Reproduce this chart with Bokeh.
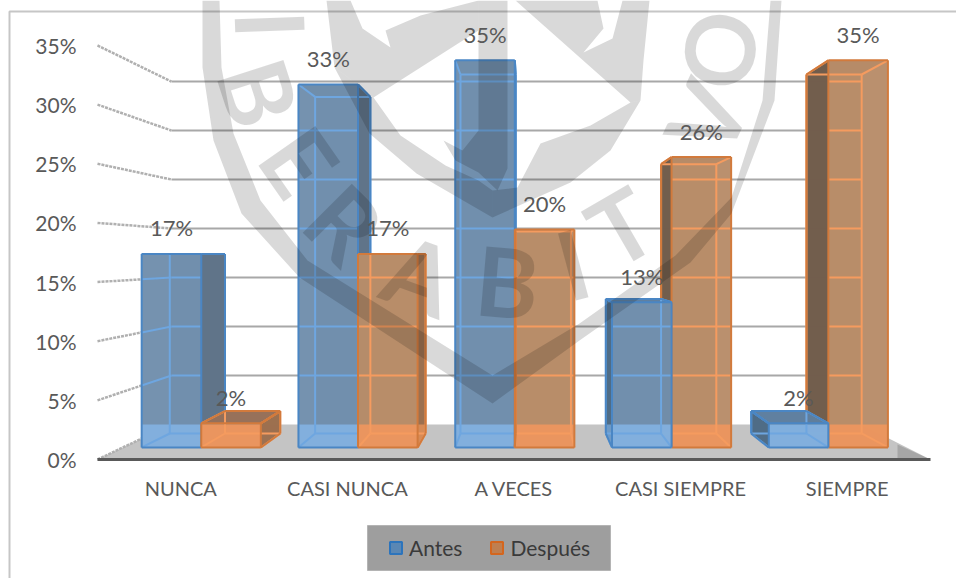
from bokeh.plotting import figure
from bokeh.models import Range1d, LinearAxis, FixedTicker, PrintfTickFormatter, Legend, LegendItem, ColumnDataSource
from bokeh.core.properties import value
from bokeh.embed import file_html
from bokeh.resources import INLINE

categories = ["NUNCA", "CASI NUNCA", "A VECES", "CASI SIEMPRE", "SIEMPRE"]
antes = [17.39, 32.61, 34.78, 13.04, 2.17]
despues = [2.17, 17.39, 19.57, 26.09, 34.78]
series_names = ["Antes", "Después"]
y_ticks = [0, 5, 10, 15, 20, 25, 30, 35]

# chart's own perspective: screen scale of the front plane
PX_U, PX_V, X0, Y0 = 166.6, 11.83, 97.0, 459.0
FIG_W, FIG_H, OFF = 956, 578, 0


def px(x, y):
    return (x - X0) / PX_U, (Y0 - y) / PX_V


VAN_U, VAN_V = px(527, 255)
S_WALL, S_FRONT, S_BACK = 0.828, 0.941, 0.8725
GAP, BAR_W = 0.12, 0.38


def proj(u, v, s):
    return VAN_U + (u - VAN_U) * s, VAN_V + (v - VAN_V) * s


p = figure(width=FIG_W, height=FIG_H, output_backend="svg", toolbar_location=None,
           x_range=Range1d(px(OFF, 0)[0], px(OFF + FIG_W, 0)[0]),
           y_range=Range1d(px(0, OFF + FIG_H)[1], px(0, OFF)[1]),
           x_axis_location=None, y_axis_location=None, min_border=0,
           outline_line_color=None, background_fill_color="white")
p.grid.visible = False

# chart border
bx, by = zip(*[px(9, 578), px(9, 11), px(956, 11)])
p.line(list(bx), list(by), line_color="#c6c6c6", line_width=2)

# floor
fl = [proj(0, 0, 1), proj(5, 0, 1), proj(5, 0, S_WALL), proj(0, 0, S_WALL)]
p.patch([a for a, _ in fl], [b for _, b in fl], fill_color="#c4c4c4", line_color=None)

# back wall gridlines and left wall
for t in y_ticks[1:]:
    a, b = proj(0, t, S_WALL)
    c, d = proj(5, t, S_WALL)
    p.line([a, c], [b, d], line_color="#a8a8a8", line_width=2)
for t in y_ticks:
    a, b = proj(0, t, 1)
    c, d = proj(0, t, S_WALL)
    p.line([a, c], [b, d], line_color="#b0b0b0", line_width=2.5, line_dash="3 1")

STY = [
    dict(body="#718eac", strip="#82b0de", sstrip="#6f9cc8", rside="#5f7387", lside="#4d6a84",
         top="#5f7f9f", edge="#4a86c4", inner="#6ea6e0"),
    dict(body="#b88c69", strip="#eb965f", sstrip="#d88c58", rside="#9b6e4e", lside="#705c4c",
         top="#96705a", edge="#d27a3c", inner="#f59b5f"),
]


def poly(pts, fill):
    p.patch([a for a, _ in pts], [b for _, b in pts], fill_color=fill, fill_alpha=0.97, line_color=None)


def seg(a, b, color, w=2):
    p.line([a[0], b[0]], [a[1], b[1]], line_color=color, line_width=w)


def draw_bar(i, j, val):
    st = STY[j]
    u0 = i + GAP + j * BAR_W
    u1 = u0 + BAR_W
    FB0, FB1 = proj(u0, 0, S_FRONT), proj(u1, 0, S_FRONT)
    FT0, FT1 = proj(u0, val, S_FRONT), proj(u1, val, S_FRONT)
    BB0, BB1 = proj(u0, 0, S_BACK), proj(u1, 0, S_BACK)
    BT0, BT1 = proj(u0, val, S_BACK), proj(u1, val, S_BACK)
    left_of_centre = (u0 + u1) / 2 < VAN_U
    floor_v = proj(0, 0, S_WALL)[1]
    strip_top = min(floor_v, FT0[1])
    low = val < VAN_V - 1
    side = st["rside"] if left_of_centre else st["lside"]

    # back face + hidden/visible sides
    poly([BB0, BB1, BT1, BT0], st["body"])
    if left_of_centre:
        poly([FB1, BB1, BT1, FT1], side)
        if val > 5:
            poly([FB1, BB1, (BB1[0], strip_top), (FB1[0], strip_top)], st["sstrip"])
    else:
        poly([FB0, BB0, BT0, FT0], side)
        if val > 5:
            poly([FB0, BB0, (BB0[0], strip_top), (FB0[0], strip_top)], st["sstrip"])
    # top face
    poly([FT0, FT1, BT1, BT0], st["top"] if low else side)
    # front face
    poly([FB0, FB1, FT1, FT0], st["body"])
    poly([FB0, FB1, (FB1[0], strip_top), (FB0[0], strip_top)], st["strip"])

    # gridlines seen through the front face
    for t in y_ticks[1:]:
        g = proj(0, t, S_WALL)
        if not (FB0[1] < g[1] < FT0[1] and g[1] > floor_v):
            continue
        xa = max(g[0], FB0[0])
        xb = min(proj(5, 0, S_WALL)[0], FB1[0])
        seg((xa, g[1]), (xb, g[1]), st["inner"])
        if FB0[0] < g[0]:
            w = proj(0, t, 1)
            k = (FB0[0] - w[0]) / (g[0] - w[0])
            seg((FB0[0], w[1] + (g[1] - w[1]) * k), g, st["inner"])

    # inner edges
    seg(BB0, BB1, st["inner"])
    seg(BT0, BT1, st["inner"])
    seg(BB0, BT0, st["inner"])
    seg(BB1, BT1, st["inner"])
    seg(FB0, BB0, st["inner"])
    seg(FB1, BB1, st["inner"])
    seg(FT0, BT0, st["inner"])
    seg(FT1, BT1, st["inner"])
    # outline of the visible box
    if left_of_centre:
        seg(BB1, BT1, st["edge"])
        seg(FT1, BT1, st["edge"])
        seg(FB1, BB1, st["edge"])
    else:
        seg(BB0, BT0, st["edge"])
        seg(FT0, BT0, st["edge"])
        seg(FB0, BB0, st["edge"])
    if low:
        seg(BT0, BT1, st["edge"])
        seg(FT0, BT0, st["edge"])
        seg(FT1, BT1, st["edge"])
    seg(FB0, FB1, st["edge"])
    seg(FB1, FT1, st["edge"])
    seg(FT1, FT0, st["edge"])
    seg(FT0, FB0, st["edge"])


values = [antes, despues]
for i in range(len(categories)):
    order = [0, 1] if i + 0.5 < VAN_U else [1, 0]
    for j in order:
        draw_bar(i, j, values[j][i])

# watermark (decor: logo lying over the picture)
WM_POLYS = [
    [(202, 0), (202, 67), (213, 140), (241, 213), (299, 277), (492, 403), (579, 340), (690, 262), (731, 213),
     (774, 100), (781, 0), (770, 0), (762, 100), (731, 197), (675, 255), (579, 323), (492, 375), (307, 260),
     (260, 200), (233, 133), (221, 67), (219, 0)],
    [(326, 0), (350, 0), (362, 28), (390, 47), (385, 30), (420, 15), (478, 0), (478, 30), (373, 97), (345, 75), (334, 67)],
    [(334, 67), (345, 75), (373, 97), (400, 135), (445, 165), (478, 180), (492, 190), (492, 217), (416, 173), (369, 133)],
    [(478, 0), (507, 0), (507, 168), (497, 190), (478, 172), (455, 160), (443, 140), (462, 150), (478, 130)],
    [(515, 0), (597, 0), (603, 28), (583, 52), (612, 38), (622, 0), (649, 0), (643, 60), (640, 100), (630, 102)],
    [(630, 102), (640, 100), (610, 150), (570, 182), (492, 217), (492, 190), (517, 187), (540, 143), (590, 125)],
    [(897, 444), (930, 459), (897, 459)],
]
for poly_px in WM_POLYS:
    q = [px(a, b) for a, b in poly_px]
    p.patch([a for a, _ in q], [b for _, b in q], fill_color="#000000", fill_alpha=0.15, line_color=None)

WM_TEXT = ["I", "B", "E", "R", "A", "B", "I", "T", "V", "O"]
WM_XY = [(272, 24), (260, 92), (300, 160), (345, 222), (420, 273), (507, 280), (572, 262), (620, 225), (705, 117), (717, 49)]
WM_ANG = [-88, -72, -55, -45, -20, -5, 15, 30, 65, 80]
wq = [px(a, b) for a, b in WM_XY]
p.text([a for a, _ in wq], [b for _, b in wq], text=WM_TEXT, angle=WM_ANG, angle_units="deg",
       text_font=value("Lato"), text_font_style="bold", text_font_size="96px", text_color="#000000",
       text_alpha=0.15, text_align="center", text_baseline="middle")

# legend box
lb = [px(367, 570), px(610, 570), px(610, 525), px(367, 525)]
p.patch([a for a, _ in lb], [b for _, b in lb], fill_color="#9e9e9e", line_color="#b4b4b4", line_width=1)

# data labels
LABEL_LIFT = 26 / PX_V
lx, ly, lt = [], [], []
for j, series in enumerate(values):
    for i, v in enumerate(series):
        u0 = i + GAP + j * BAR_W
        a, b = proj(u0 + BAR_W / 2, v, S_FRONT)
        lx.append(a)
        ly.append(b + LABEL_LIFT)
        lt.append(f"{round(v)}%")
p.text(lx, ly, text=lt, text_font=value("Lato"), text_font_size="22px", text_color="#595959",
       text_align="center", text_baseline="middle")

# axes
yax = LinearAxis(ticker=FixedTicker(ticks=y_ticks), formatter=PrintfTickFormatter(format="%d%%"),
                 fixed_location=0, axis_line_color=None, major_tick_line_color=None, minor_tick_line_color=None,
                 major_label_standoff=15, major_label_text_font="Lato", major_label_text_font_size="21px",
                 major_label_text_color="#595959", major_label_text_font_style="normal")
p.add_layout(yax, "left")
centres = [i + 0.5 for i in range(len(categories))]
xax = LinearAxis(ticker=FixedTicker(ticks=centres),
                 major_label_overrides={c: n for c, n in zip(centres, categories)},
                 fixed_location=0, bounds=(0, 5), axis_line_color="#595959", axis_line_width=3,
                 major_tick_line_color=None, minor_tick_line_color=None, major_label_standoff=10,
                 major_label_text_font="Lato", major_label_text_font_size="20px",
                 major_label_text_color="#595959", major_label_text_font_style="normal")
p.add_layout(xax, "below")

# legend
nan = float("nan")
empty = ColumnDataSource(dict(left=[nan], right=[nan], top=[nan], bottom=[nan]))
r0 = p.quad(left="left", right="right", top="top", bottom="bottom", source=empty,
            fill_color="#5a87b4", line_color="#2c74bc", line_width=2)
r1 = p.quad(left="left", right="right", top="top", bottom="bottom", source=empty,
            fill_color="#bf7f50", line_color="#d4661e", line_width=2)
legend = Legend(items=[LegendItem(label=series_names[0], renderers=[r0]),
                       LegendItem(label=series_names[1], renderers=[r1])],
                orientation="horizontal", location=(388, 18), background_fill_alpha=0,
                border_line_color=None, label_text_font="Lato",
                label_text_font_size="21px", label_text_color="#3a3a3a", glyph_width=15, glyph_height=15,
                padding=0, spacing=27, margin=0, label_standoff=6, label_height=25)
p.add_layout(legend, "center")

open("out.html", "w").write(file_html(p, INLINE))
